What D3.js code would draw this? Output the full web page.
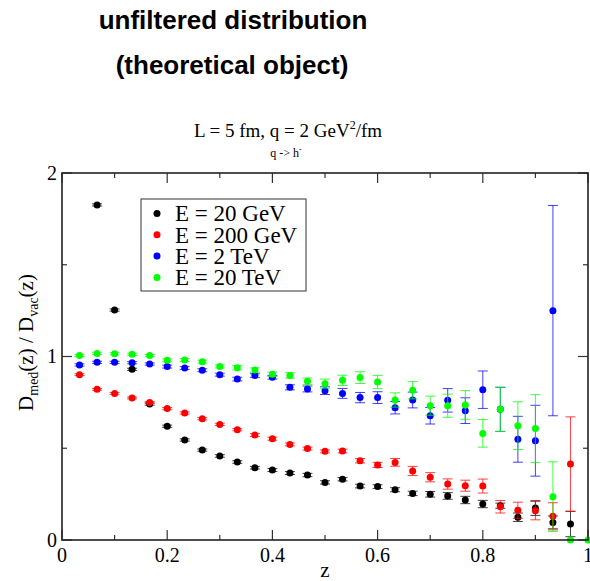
<!DOCTYPE html>
<html>
<head>
<meta charset="utf-8">
<script src="https://cdn.jsdelivr.net/npm/d3@7"></script>
<style>
	body { margin: 0; background: #fff; }
	svg { display: block; }
</style>
</head>
<body>
<div id="chart"></div>
<script>
// z bins (bin centres)
const zBins = [0.0333, 0.0667, 0.1, 0.1333, 0.1667, 0.2, 0.2333, 0.2667, 0.3, 0.3333,
	0.3667, 0.4, 0.4333, 0.4667, 0.5, 0.5333, 0.5667, 0.6, 0.6333, 0.6667,
	0.7, 0.7333, 0.7667, 0.8, 0.8333, 0.8667, 0.9, 0.9333, 0.9667, 1.0]

// E = 20 GeV
const ratio20GeV = [null, 1.826, 1.253, 0.930, 0.741, 0.620, 0.545, 0.490, 0.458, 0.425,
	0.394, 0.381, 0.365, 0.354, 0.314, 0.331, 0.294, 0.291, 0.274, 0.254,
	0.249, 0.240, 0.218, 0.196, 0.187, 0.124, 0.174, 0.096, 0.087, null]
const err20GeV = [null, 0.006, 0.006, 0.006, 0.006, 0.006, 0.006, 0.006, 0.007, 0.007,
	0.007, 0.008, 0.008, 0.009, 0.009, 0.009, 0.010, 0.010, 0.011, 0.012,
	0.015, 0.018, 0.020, 0.020, 0.014, 0.023, 0.040, 0.035, 0.069, null]

// E = 200 GeV
const ratio200GeV = [0.901, 0.821, 0.799, 0.774, 0.750, 0.716, 0.692, 0.661, 0.630, 0.601,
	0.572, 0.552, 0.521, 0.498, 0.483, 0.485, 0.432, 0.409, 0.423, 0.376,
	0.342, 0.305, 0.296, 0.294, 0.181, 0.162, 0.160, 0.129, 0.414, null]
const err200GeV = [0.005, 0.005, 0.005, 0.005, 0.005, 0.006, 0.006, 0.006, 0.006, 0.006,
	0.008, 0.008, 0.008, 0.008, 0.008, 0.010, 0.012, 0.014, 0.021, 0.025,
	0.025, 0.028, 0.030, 0.038, 0.034, 0.044, 0.050, 0.074, 0.257, null]

// E = 2 TeV
const ratio2TeV = [0.954, 0.968, 0.968, 0.966, 0.959, 0.945, 0.937, 0.925, 0.901, 0.877,
	0.896, 0.887, 0.832, 0.823, 0.814, 0.799, 0.776, 0.776, 0.721, 0.763,
	0.677, 0.761, 0.705, 0.819, 0.712, 0.549, 0.541, 1.250, null, null]
const err2TeV = [0.006, 0.006, 0.006, 0.006, 0.006, 0.008, 0.008, 0.008, 0.008, 0.010,
	0.010, 0.010, 0.014, 0.016, 0.021, 0.027, 0.028, 0.032, 0.034, 0.043,
	0.045, 0.064, 0.070, 0.102, 0.120, 0.125, 0.193, 0.573, null, null]

// E = 20 TeV
const ratio20TeV = [1.006, 1.017, 1.015, 1.012, 1.005, 0.979, 0.981, 0.972, 0.946, 0.939,
	0.926, 0.903, 0.897, 0.865, 0.852, 0.870, 0.885, 0.861, 0.763, 0.816,
	0.732, 0.732, 0.736, 0.581, 0.712, 0.623, 0.607, 0.236, 0, 0]
const err20TeV = [0.006, 0.006, 0.006, 0.006, 0.006, 0.008, 0.008, 0.008, 0.008, 0.012,
	0.012, 0.012, 0.015, 0.018, 0.025, 0.028, 0.032, 0.036, 0.039, 0.047,
	0.052, 0.063, 0.078, 0.075, 0.121, 0.130, 0.185, 0.190, 0, 0]

const seriesLabels = ['E = 20 GeV', 'E = 200 GeV', 'E = 2 TeV', 'E = 20 TeV']
const seriesColors = ['#000000', '#ff0000', '#0000ff', '#00ff00']
const xTicks = [0, 0.2, 0.4, 0.6, 0.8, 1]
const xMinorTicks = [0.1, 0.3, 0.5, 0.7, 0.9]
const yTicks = [0, 1, 2]
const yMinorTicks = [0.5, 1.5]

const series = [
	{ values: ratio20GeV, errors: err20GeV },
	{ values: ratio200GeV, errors: err200GeV },
	{ values: ratio2TeV, errors: err2TeV },
	{ values: ratio20TeV, errors: err20TeV }
].map((s, i) => ({
	label: seriesLabels[i],
	color: seriesColors[i],
	points: zBins
		.map((z, j) => ({ z, v: s.values[j], e: s.errors[j] }))
		.filter(p => p.v !== null)
}))

const W = 590
const H = 581
const margin = { top: 173, right: 2, bottom: 41, left: 62 }
const plotW = W - margin.left - margin.right
const plotH = H - margin.top - margin.bottom

const svg = d3
	.select('#chart')
	.append('svg')
	.attr('width', W)
	.attr('height', H)

const x = d3.scaleLinear().domain([0, 1]).range([0, plotW])
const y = d3.scaleLinear().domain([0, 2]).range([plotH, 0])

// titles
const titleFont = 'bold 26px "Liberation Sans", Arial, sans-serif'
svg.append('text')
	.attr('x', 233)
	.attr('y', 29)
	.attr('text-anchor', 'middle')
	.style('font', titleFont)
	.text('unfiltered distribution')

svg.append('text')
	.attr('x', 232)
	.attr('y', 74)
	.attr('text-anchor', 'middle')
	.style('font', titleFont)
	.text('(theoretical object)')

const sub = svg.append('text')
	.attr('x', 288)
	.attr('y', 137)
	.attr('text-anchor', 'middle')
	.style('font', '19px "Liberation Serif", "Times New Roman", serif')
sub.append('tspan').text('L = 5 fm, q = 2 GeV')
sub.append('tspan').attr('dy', -8).style('font-size', '12px').text('2')
sub.append('tspan').attr('dy', 8).text('/fm')

const sub2 = svg.append('text')
	.attr('x', 286)
	.attr('y', 157)
	.attr('text-anchor', 'middle')
	.style('font', '12px "Liberation Serif", "Times New Roman", serif')
sub2.append('tspan').text('q -> h')
sub2.append('tspan').attr('dy', -5).style('font-size', '8px').text('-')

const g = svg.append('g')
	.attr('transform', `translate(${margin.left},${margin.top})`)

// ticks (inward, all four sides)
const tickG = g.append('g').attr('stroke', '#333').attr('stroke-width', 1.2)
function drawTicks(vals, len) {
	vals.forEach(t => {
		tickG.append('line').attr('x1', x(t)).attr('x2', x(t)).attr('y1', plotH).attr('y2', plotH - len)
		tickG.append('line').attr('x1', x(t)).attr('x2', x(t)).attr('y1', 0).attr('y2', len)
	})
}
function drawYTicks(vals, len) {
	vals.forEach(t => {
		tickG.append('line').attr('x1', 0).attr('x2', len).attr('y1', y(t)).attr('y2', y(t))
		tickG.append('line').attr('x1', plotW).attr('x2', plotW - len).attr('y1', y(t)).attr('y2', y(t))
	})
}
drawTicks(xTicks, 10)
drawTicks(xMinorTicks, 5)
drawYTicks(yTicks, 10)
drawYTicks(yMinorTicks, 5)

const labelFont = '20px "Liberation Serif", "Times New Roman", serif'

g.append('g')
	.selectAll('text')
	.data(xTicks)
	.enter()
	.append('text')
	.attr('x', d => x(d))
	.attr('y', plotH + 22)
	.attr('text-anchor', 'middle')
	.style('font', labelFont)
	.text(d => d3.format('')(d))

g.append('g')
	.selectAll('text')
	.data(yTicks)
	.enter()
	.append('text')
	.attr('x', -5)
	.attr('y', d => y(d))
	.attr('dy', '0.33em')
	.attr('text-anchor', 'end')
	.style('font', labelFont)
	.text(d => d)

// axis titles
g.append('text')
	.attr('x', plotW / 2)
	.attr('y', plotH + 37)
	.attr('text-anchor', 'middle')
	.style('font', '21px "Liberation Serif", "Times New Roman", serif')
	.text('z')

const yl = svg.append('text')
	.attr('transform', `translate(33,${margin.top + plotH / 2 - 14}) rotate(-90)`)
	.attr('text-anchor', 'middle')
	.style('font', '21px "Liberation Serif", "Times New Roman", serif')
yl.append('tspan').text('D')
yl.append('tspan').attr('dy', 5).style('font-size', '14px').text('med')
yl.append('tspan').attr('dy', -5).text('(z) / D')
yl.append('tspan').attr('dy', 5).style('font-size', '14px').text('vac')
yl.append('tspan').attr('dy', -5).text('(z)')

// data: error bars then symbols, set by set
series.forEach(s => {
	const sg = g.append('g')
	const eb = sg.append('g')
		.attr('stroke', s.color)
		.attr('stroke-width', 1)
		.attr('stroke-opacity', 0.75)
		.selectAll('g')
		.data(s.points.filter(p => p.e > 0))
		.enter()
		.append('g')
	eb.append('line')
		.attr('x1', d => x(d.z)).attr('x2', d => x(d.z))
		.attr('y1', d => y(d.v + d.e)).attr('y2', d => y(d.v - d.e))
	eb.append('line')
		.attr('x1', d => x(d.z) - 5).attr('x2', d => x(d.z) + 5)
		.attr('y1', d => y(d.v + d.e)).attr('y2', d => y(d.v + d.e))
	eb.append('line')
		.attr('x1', d => x(d.z) - 5).attr('x2', d => x(d.z) + 5)
		.attr('y1', d => y(d.v - d.e)).attr('y2', d => y(d.v - d.e))

	sg.selectAll('circle')
		.data(s.points)
		.enter()
		.append('circle')
		.attr('cx', d => x(d.z))
		.attr('cy', d => y(d.v))
		.attr('r', 3.5)
		.attr('fill', s.color)
})

// frame
g.append('rect')
	.attr('width', plotW)
	.attr('height', plotH)
	.attr('fill', 'none')
	.attr('stroke', '#222')
	.attr('stroke-width', 1.6)

// legend
const lg = svg.append('g').attr('transform', 'translate(141,199)')
lg.append('rect')
	.attr('width', 165)
	.attr('height', 92)
	.attr('fill', '#fff')
	.attr('stroke', '#333')
	.attr('stroke-width', 1)
series.forEach((s, i) => {
	lg.append('circle')
		.attr('cx', 16)
		.attr('cy', 14.5 + i * 21.3)
		.attr('r', 3.5)
		.attr('fill', s.color)
	lg.append('text')
		.attr('x', 34)
		.attr('y', 14.5 + i * 21.3)
		.attr('dy', '0.34em')
		.style('font', '23px "Liberation Serif", "Times New Roman", serif')
		.text(s.label)
})
</script>
</body>
</html>
